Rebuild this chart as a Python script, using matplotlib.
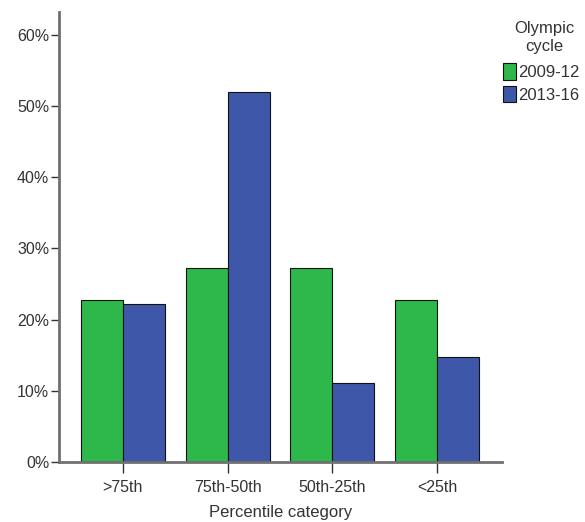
import matplotlib
matplotlib.use("Agg")
import matplotlib.pyplot as plt
import numpy as np
from matplotlib.patches import Patch

plt.rcParams['font.family'] = ['Liberation Sans', 'DejaVu Sans']

categories = [">75th", "75th-50th", "50th-25th", "<25th"]
series_names = ["2009-12", "2013-16"]
values_2009 = [22.7, 27.3, 27.3, 22.7]
values_2013 = [22.2, 51.9, 11.1, 14.8]
yticks = [0, 10, 20, 30, 40, 50, 60]
ytick_labels = ["0%", "10%", "20%", "30%", "40%", "50%", "60%"]

green = "#2eb84b"
blue = "#3f57a8"
grey = "#707070"
txt = "#333333"

fig = plt.figure(figsize=(5.85, 5.22), dpi=100)
ax = fig.add_axes([59/585, 60/522, (502-59)/585, (462-12)/522])

x = np.arange(len(categories))
w = 0.4
ax.bar(x - w/2, values_2009, width=w, color=green, edgecolor="#111111", linewidth=0.8)
ax.bar(x + w/2, values_2013, width=w, color=blue, edgecolor="#111111", linewidth=0.8)

ax.set_xlim(-0.61, 3.62)
ax.set_ylim(0, 63.2)
ax.set_xticks(x)
ax.set_xticklabels(categories, fontsize=11.5, color=txt)
ax.set_yticks(yticks)
ax.set_yticklabels(ytick_labels, fontsize=11.5, color=txt)
ax.tick_params(axis='x', length=8, width=1, color=txt, pad=5)
ax.tick_params(axis='y', length=6, width=1, color=txt, pad=1)
ax.spines['top'].set_visible(False)
ax.spines['right'].set_visible(False)
for s in ['left', 'bottom']:
    ax.spines[s].set_color(grey)
    ax.spines[s].set_linewidth(2)
ax.set_xlabel("Percentile category", fontsize=12, color=txt, labelpad=7)

fig.text(544/585, 1 - 29/522, "Olympic", ha="center", va="center", fontsize=12, color=txt)
fig.text(544/585, 1 - 46/522, "cycle", ha="center", va="center", fontsize=12, color=txt)

handles = [Patch(facecolor=green, edgecolor="#111111", linewidth=0.8),
           Patch(facecolor=blue, edgecolor="#111111", linewidth=0.8)]
leg = fig.legend(handles, series_names,
                 loc="upper left", bbox_to_anchor=(503/585, 1 - 63/522),
                 frameon=False, fontsize=12,
                 handlelength=0.8, handleheight=1.15, handletextpad=0.1,
                 labelspacing=0.35, borderaxespad=0, borderpad=0)
for t in leg.get_texts():
    t.set_color(txt)

fig.savefig("out.png", dpi=100)
